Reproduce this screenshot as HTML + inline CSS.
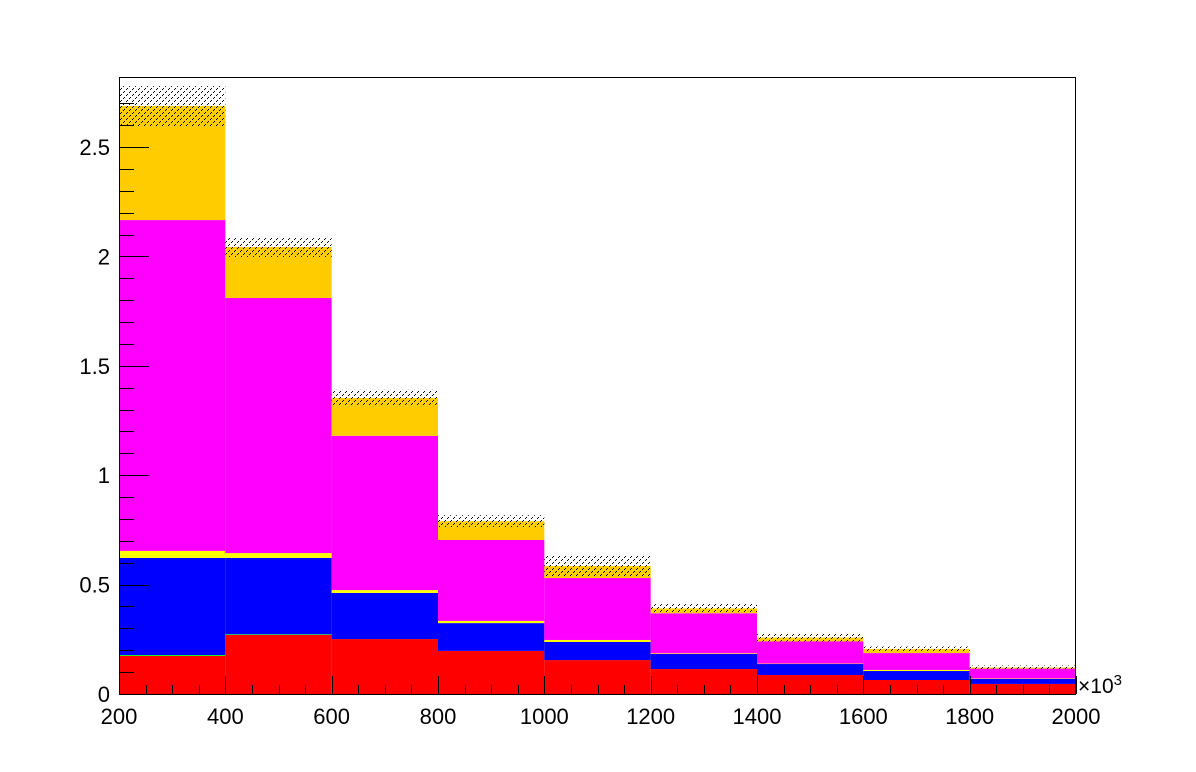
<!DOCTYPE html>
<html><head><meta charset="utf-8"><style>
html,body{margin:0;padding:0;background:#fff;}
svg{display:block;font-family:"Liberation Sans",sans-serif;}
</style></head><body>
<svg id="chart" width="1196" height="772" viewBox="0 0 1196 772" xmlns="http://www.w3.org/2000/svg">
<defs>
<pattern id="hatch" patternUnits="userSpaceOnUse" width="6" height="6">
<rect x="0" y="5" width="1" height="1" fill="#000"/><rect x="1" y="4" width="1" height="1" fill="#000"/><rect x="3" y="2" width="1" height="1" fill="#000"/><rect x="4" y="1" width="1" height="1" fill="#000"/>
</pattern>
</defs>
<g id="bars"></g>
<g id="axes"></g>
</svg>
<script>
const binEdges = [200,400,600,800,1000,1200,1400,1600,1800,2000];
const red     = [0.174,0.270,0.251,0.197,0.155,0.114,0.087,0.064,0.046];
const green   = [0.004,0.003,0,0,0,0,0,0,0];
const blue    = [0.444,0.349,0.211,0.127,0.083,0.069,0.050,0.041,0.023];
const yellow  = [0.032,0.022,0.013,0.010,0.009,0.003,0.002,0.005,0.002];
const magenta = [1.512,1.166,0.705,0.370,0.283,0.183,0.101,0.077,0.045];
const orange  = [0.521,0.233,0.173,0.086,0.055,0.022,0.018,0.019,0.005];
const errors  = [0.091,0.046,0.037,0.027,0.050,0.020,0.018,0.011,0.009];
const xTickLabels = ["200","400","600","800","1000","1200","1400","1600","1800","2000"];
const yTickLabels = ["0","0.5","1","1.5","2","2.5"];

const NS="http://www.w3.org/2000/svg";
const L=119,R=1076,T=77,B=694;
const xMin=200,xMax=2000;
const xs=v=>L+(v-xMin)/(xMax-xMin)*(R-L);
const ys=v=>B-v*218.8;
function mk(tag,attrs,parent){const e=document.createElementNS(NS,tag);for(const k in attrs)e.setAttribute(k,attrs[k]);parent.appendChild(e);return e;}
const bars=document.getElementById('bars'),axes=document.getElementById('axes');
const series=[["red",red,"#ff0000"],["green",green,"#00ff00"],["blue",blue,"#0000ff"],["yellow",yellow,"#ffff00"],["magenta",magenta,"#ff00ff"],["orange",orange,"#ffcc00"]];
for(let i=0;i<red.length;i++){
  let base=0;
  const x0=xs(binEdges[i]),x1=xs(binEdges[i+1]);
  for(const [nm,arr,col] of series){
    const v=arr[i]; if(v<=0){continue;}
    const r=mk('rect',{x:x0,y:ys(base+v),width:x1-x0,height:ys(base)-ys(base+v),fill:col},bars);
    
    
    base+=v;
  }
  const e=errors[i];
  const er=mk('rect',{x:x0,y:ys(base+e),width:x1-x0,height:ys(base-e)-ys(base+e),fill:'url(#hatch)'},bars);
  
  
}
const fr=mk('rect',{x:L+0.5,y:T+0.5,width:R-L-1,height:B-T,fill:'none',stroke:'#000','stroke-width':1},axes);


for(let k=0;k<=27;k++){
  const v=k*0.1, y=Math.round(ys(v))+0.5; const major=k%5===0;
  mk('line',{x1:L,x2:L+(major?30:15),y1:y,y2:y,stroke:'#000','stroke-width':1},axes);
}
yTickLabels.forEach(s=>{
  const t=mk('text',{x:110,y:ys(parseFloat(s))+8,'text-anchor':'end','font-size':22,fill:'#000'},axes);
  t.textContent=s;
  
  
});
for(let v=200;v<=2000;v+=50){
  const x=Math.round(xs(v))+0.5; const major=(v%200===0);
  mk('line',{x1:x,x2:x,y1:B,y2:B-(major?18:9),stroke:'#000','stroke-width':1},axes);
}
xTickLabels.forEach(s=>{
  const t=mk('text',{x:xs(parseFloat(s)),y:724,'text-anchor':'middle','font-size':22,fill:'#000'},axes);
  t.textContent=s;
  
  
});
const ex=mk('text',{x:1078,y:693,'font-size':21,fill:'#000'},axes);
ex.innerHTML='×10<tspan dy="-8" font-size="15">3</tspan>';


</script>
</body></html>
